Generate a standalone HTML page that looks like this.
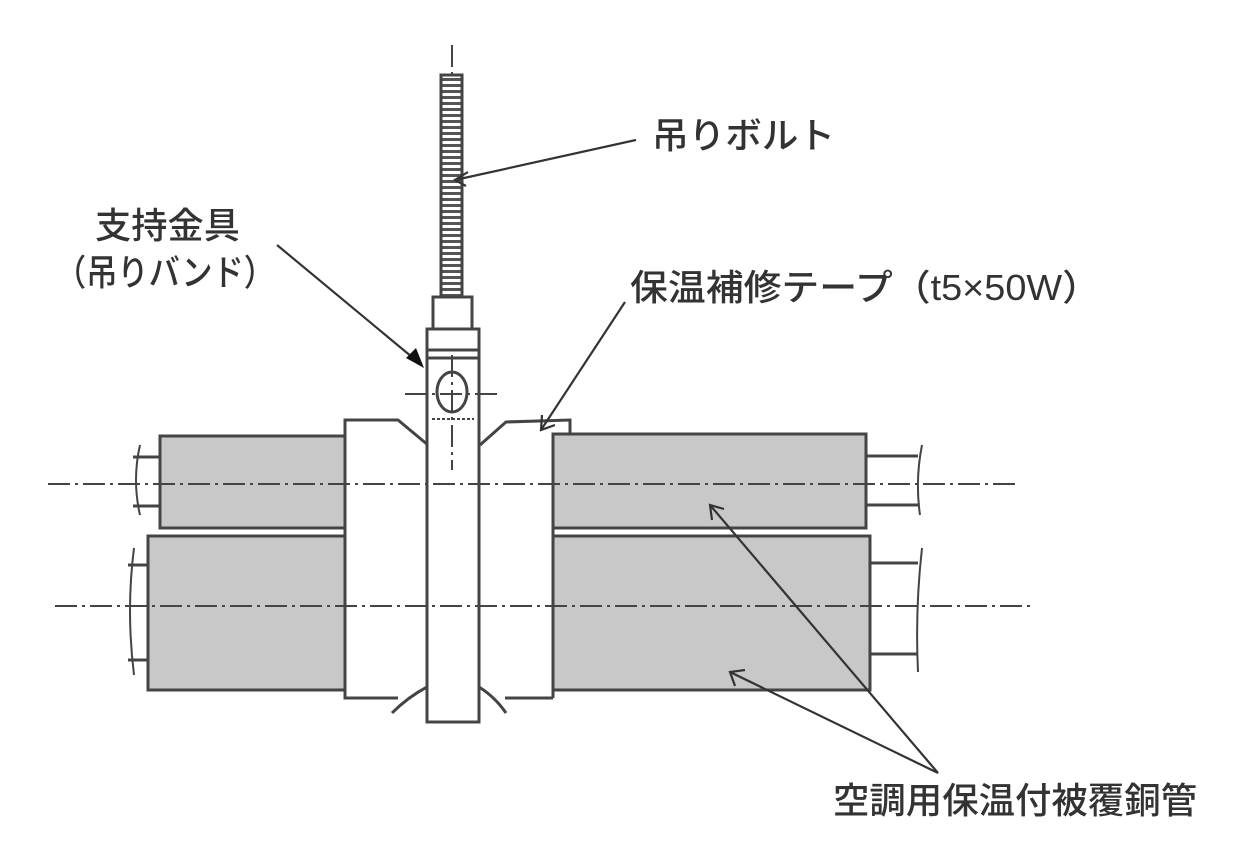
<!DOCTYPE html>
<html><head><meta charset="utf-8"><style>
html,body{margin:0;padding:0;background:#fff;width:1252px;height:861px;overflow:hidden}
text{font-family:"Liberation Sans","Noto Sans CJK JP",sans-serif;fill:#333;font-weight:500}
</style></head><body>
<svg width="1252" height="861" viewBox="0 0 1252 861" xmlns="http://www.w3.org/2000/svg">
<defs>
<pattern id="thr" width="21" height="6" patternUnits="userSpaceOnUse"><rect width="21" height="6" fill="#fff"/><rect x="0" y="0" width="21" height="3" fill="#555"/></pattern>
</defs>
<g stroke="#444" stroke-width="3" fill="none">
<line x1="133" y1="457" x2="160" y2="457"/><line x1="133" y1="506" x2="160" y2="506"/>
<path d="M140 445 Q132 480 140 515" stroke-width="2"/>
<line x1="128" y1="565" x2="148" y2="565"/><line x1="128" y1="660" x2="148" y2="660"/>
<path d="M134 548 Q126 610 134 675" stroke-width="2"/>
<line x1="866" y1="456" x2="918" y2="456"/><line x1="866" y1="505" x2="918" y2="505"/>
<path d="M922 445 Q915 480 920 515" stroke-width="2"/>
<line x1="870" y1="563" x2="918" y2="563"/><line x1="870" y1="654" x2="918" y2="654"/>
<path d="M922 548 Q915 610 918 672" stroke-width="2"/>
</g>
<g stroke="#444" stroke-width="3" fill="#c8c8c8">
<rect x="160" y="436" width="185" height="92"/>
<rect x="148" y="536" width="197" height="154"/>
<rect x="553" y="434" width="313" height="94"/>
<rect x="553" y="536" width="317" height="154"/>
</g>
<g stroke="#444" stroke-width="3" fill="none">
<path d="M398 698 L345 698 L345 420 L398 420 L428 445" fill="#fff"/>
<path d="M480 445 L506 422 L570 420 L570 434"/>
<line x1="553" y1="434" x2="553" y2="698"/>
<line x1="505" y1="698" x2="553" y2="698"/>
<path d="M427 687 Q408 697 392 713"/>
<path d="M479 687 Q495 697 506 713"/>
</g>
<g stroke="#444" stroke-width="3" fill="#fff">
<rect x="427" y="329" width="52" height="393"/>
<line x1="427" y1="350" x2="479" y2="350"/>
<line x1="427" y1="358" x2="479" y2="358"/>
<ellipse cx="452" cy="392" rx="15" ry="20"/>
<line x1="432" y1="419" x2="474" y2="419" stroke-dasharray="3 2" stroke-width="2"/>
<rect x="433" y="297" width="39" height="32"/>
<rect x="441" y="75" width="21" height="222" fill="url(#thr)"/>
</g>
<g stroke="#444" stroke-width="2" stroke-dasharray="22 5 3 5" fill="none">
<line x1="48" y1="484" x2="1020" y2="484"/>
<line x1="55" y1="606" x2="1030" y2="606"/>
<line x1="405" y1="394" x2="497" y2="394"/>
<line x1="452" y1="45" x2="452" y2="75"/>
<line x1="452" y1="355" x2="452" y2="470"/>
</g>
<g stroke="#333" stroke-width="2.2" fill="none">
<line x1="636" y1="140" x2="455" y2="180"/>
<path d="M468 172 L455 180 L466 186"/>
<line x1="277" y1="245" x2="418" y2="362"/>
<line x1="625" y1="302" x2="541" y2="430"/>
<path d="M542 415 L541 430 L555 425"/>
<line x1="938" y1="773" x2="710" y2="505"/>
<path d="M712 520 L710 505 L724 509"/>
<line x1="938" y1="773" x2="730" y2="672"/>
<path d="M735 686 L730 672 L745 670"/>
</g>
<polygon points="424,368 406,358 416,348" fill="#111"/>
<g font-size="36">
<text x="652" y="148" textLength="183" lengthAdjust="spacingAndGlyphs">吊りボルト</text>
<text x="95" y="238" textLength="145" lengthAdjust="spacingAndGlyphs">支持金具</text>
<text x="55" y="285" textLength="220" lengthAdjust="spacingAndGlyphs">（吊りバンド）</text>
<text x="630" y="300" textLength="470" lengthAdjust="spacingAndGlyphs">保温補修テープ（t5×50W）</text>
<text x="833" y="813" textLength="364" lengthAdjust="spacingAndGlyphs">空調用保温付被覆銅管</text>
</g>
</svg>
</body></html>
